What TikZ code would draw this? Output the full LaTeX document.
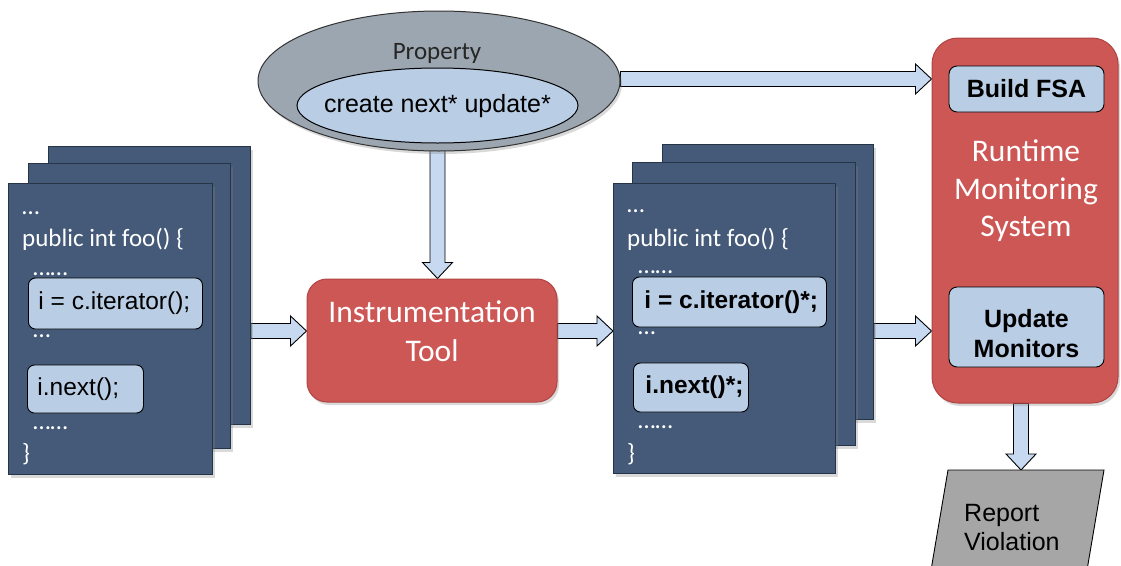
\documentclass[tikz,border=0pt]{standalone}
\usepackage{fontspec}
\setmainfont{Carlito}
\newfontfamily\arialfont{Liberation Sans}
\usetikzlibrary{shapes.geometric,shadows,calc}

\definecolor{pagefill}{RGB}{68,90,120}
\definecolor{pageedge}{RGB}{38,52,72}
\definecolor{codefill}{RGB}{185,205,229}
\definecolor{redfill}{RGB}{205,87,85}
\definecolor{rededge}{RGB}{176,68,66}
\definecolor{propfill}{RGB}{156,166,176}
\definecolor{arrowfill}{RGB}{198,217,241}
\definecolor{reportfill}{RGB}{166,166,166}

\pgfdeclarelayer{back}
\pgfsetlayers{back,main}

\tikzset{
  softshadow/.style={drop shadow={opacity=0.3, shadow xshift=2pt, shadow yshift=-3pt}},
  page/.style={draw=pageedge, line width=1pt, fill=pagefill, softshadow,
    anchor=north west, inner sep=0pt},
  pagetext/.style={anchor=base west, inner sep=0pt, text=white,
    font=\fontsize{25}{30}\selectfont},
  codebox/.style={draw=black, line width=0.9pt, fill=codefill, rounded corners=7pt,
    anchor=west, inner xsep=10pt, inner ysep=0pt,
    font=\arialfont\fontsize{24.5}{29}\selectfont},
  boldcode/.style={codebox, inner xsep=12pt, font=\arialfont\bfseries\fontsize{24.5}{29}\selectfont},
  redbox/.style={draw=rededge, line width=1pt, fill=redfill, softshadow, inner sep=0pt},
  redtext/.style={text=white, align=center, inner sep=0pt,
    font=\fontsize{31.5}{38.5}\selectfont},
  innerbox/.style={draw=black, line width=0.9pt, fill=codefill, rounded corners=8pt,
    align=center, inner sep=0pt, font=\arialfont\bfseries\fontsize{25}{30}\selectfont},
  blockarrow/.style={draw=black, line width=0.9pt, fill=arrowfill, line join=miter},
}

% left-aligned code line of a fixed width
\newcommand\codeline[2]{\makebox[#1pt][l]{#2}}

% horizontal block arrow: tail x from #1, tip at #2
\newcommand\harrow[2]{%
  \draw[blockarrow] let \p1=(#1), \p2=(#2) in
    (\x1,\y2+7.5pt) -- (\x2-16pt,\y2+7.5pt) -- (\x2-16pt,\y2+15pt) -- (\x2,\y2)
    -- (\x2-16pt,\y2-15pt) -- (\x2-16pt,\y2-7.5pt) -- (\x1,\y2-7.5pt) -- cycle;}
% downward block arrow: x and tail from #1, tip height from #2
\newcommand\varrow[2]{%
  \draw[blockarrow] let \p1=(#1), \p2=(#2) in
    (\x1-7.5pt,\y1) -- (\x1-7.5pt,\y2+16pt) -- (\x1-15pt,\y2+16pt) -- (\x1,\y2)
    -- (\x1+15pt,\y2+16pt) -- (\x1+7.5pt,\y2+16pt) -- (\x1+7.5pt,\y1) -- cycle;}

\begin{document}
\begin{tikzpicture}[x=1pt, y=-1pt]
\useasboundingbox (0,0) rectangle (1121,565);

% ---- source code pages (left) ----
\node[page, minimum width=202, minimum height=278] (L3) at (48,146) {};
\node[page, minimum width=202, minimum height=285] (L2) at (28,163) {};
\node[page, minimum width=204, minimum height=291] (L1) at (8,183) {};

\node[pagetext] (l1) at (22,214) {…};
\node[pagetext] (l2) at (22,246) {public int foo() \{};
\node[pagetext] (l3) at (33,275) {……};
\node[codebox, minimum height=51] (lc1) at (28,303.5) {\codeline{154}{i = c.iterator();}};
\node[pagetext] (l4) at (33,337) {…};
\node[codebox, minimum height=48] (lc2) at (27,389) {\codeline{96}{i.next();}};
\node[pagetext] (l5) at (33,429) {……};
\node[pagetext] (l6) at (22,461) {\}};

% ---- instrumented pages (right) ----
\node[page, minimum width=211, minimum height=275] (R3) at (662,144) {};
\node[page, minimum width=223, minimum height=283] (R2) at (632,162) {};
\node[page, minimum width=222, minimum height=290] (R1) at (613,183) {};

\node[pagetext] (r1) at (627,212) {…};
\node[pagetext] (r2) at (627,246) {public int foo() \{};
\node[pagetext] (r3) at (638,273) {……};
\node[boldcode, minimum height=50] (rc1) at (632,302) {\codeline{170}{i = c.iterator()*;}};
\node[pagetext] (r4) at (638,334) {…};
\node[boldcode, minimum height=49] (rc2) at (633,387.5) {\codeline{91}{i.next()*;}};
\node[pagetext] (r5) at (638,428) {……};
\node[pagetext] (r6) at (627,461) {\}};

% ---- property ----
\node[ellipse, draw=black!80, line width=1pt, fill=propfill, softshadow,
      minimum width=362, minimum height=140, inner sep=0pt] (prop) at (439,81) {};
\node[font=\fontsize{25}{30}\selectfont, text=black!85, inner sep=0pt] (proplabel) at (437,53) {Property};
\node[ellipse, draw=black, line width=1pt, fill=codefill, minimum width=281,
      minimum height=75, inner sep=0pt] (pattern) at (437.5,105.5) {};
\node[inner sep=0pt, font=\arialfont\fontsize{25}{30}\selectfont]
      (patternlabel) at (437.5,106) {create next* update*};

% ---- instrumentation tool ----
\node[redbox, rounded corners=20pt, minimum width=250, minimum height=123] (tool) at (432,340.5) {};
\node[redtext] (toollabel) at (432,331) {Instrumentation\\Tool};

% ---- runtime monitoring system ----
\node[redbox, rounded corners=26pt, minimum width=186, minimum height=365] (rms) at (1025,220.5) {};
\node[redtext, font=\fontsize{31.5}{37.5}\selectfont] (rmslabel) at (1026,191) {Runtime\\Monitoring\\System};
\node[innerbox, minimum width=155, minimum height=46] (fsa) at (1026.5,89) {Build FSA};
\node[innerbox, minimum width=155, minimum height=80] (upd) at (1026.5,327) {};
\node[align=center, inner sep=0pt, font=\arialfont\bfseries\fontsize{25}{30}\selectfont]
      (updlabel) at (1026.5,334) {Update\\Monitors};

% ---- report ----
\coordinate (reporttop) at (1021,470);
\draw[draw=black, line width=0.9pt, fill=reportfill]
  (948,470) -- (1104,470) -- (1086,576) -- (930,576) -- cycle;
\node[anchor=west, align=left, inner sep=0pt, font=\arialfont\fontsize{25}{29}\selectfont]
  (report) at (964,528) {Report\\Violation};

% ---- flow arrows ----
\coordinate (flow) at (0,331);
\coordinate (proprow) at (0,79);
\begin{pgfonlayer}{back}
  \harrow{L3.east}{tool.west |- flow}
  \harrow{tool.east}{R1.west |- flow}
  \harrow{R3.east}{rms.west |- flow}
  \harrow{prop.east}{rms.west |- proprow}
  \varrow{pattern.south}{tool.north}
  \varrow{rms.south -| reporttop}{reporttop}
\end{pgfonlayer}
\end{tikzpicture}
\end{document}
